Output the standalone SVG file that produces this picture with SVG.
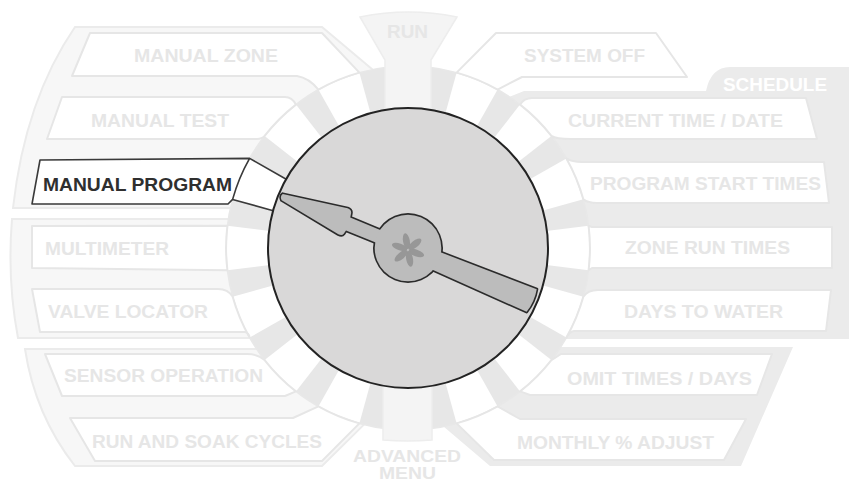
<svg xmlns="http://www.w3.org/2000/svg" xmlns:xlink="http://www.w3.org/1999/xlink" width="849" height="484" viewBox="0 0 849 484">
<defs>
<style>
.bandL{fill:#f7f7f7;stroke:#ebebeb;stroke-width:2}
.bandR{fill:#ebebeb;stroke:none}
.spoke{fill:#e7e7e7}
.box{fill:#ffffff;stroke:#e6e6e6;stroke-width:2;stroke-linejoin:round}
.stem{fill:#f4f4f4;stroke:#ededed;stroke-width:1.5}
.active{fill:#ffffff;stroke:#3a3a3a;stroke-width:1.6;stroke-linejoin:round}
.neck{fill:none;stroke:#3a3a3a;stroke-width:1.6}
.t{font-family:"Liberation Sans",Arial,sans-serif;font-weight:700;font-size:18.5px;text-anchor:middle;fill:#e6e6e6}
.ts{font-size:16.5px}
.ta{fill:#2f2f2f}
.tw{fill:#ffffff}
.ink{fill:none;stroke:#2b2b2b;stroke-width:3.2;stroke-linejoin:round}
.needle{fill:#bcbcbc;stroke:none}
.petal{fill:#979797}
</style>
<path id="spoke" class="spoke" d="M397.77,111 L394.51,66.5 A182,182 0 0 1 421.49,66.5 L418.23,111 Z"/>
</defs>
<rect width="849" height="484" fill="#ffffff"/>

<g id="bands">
<path class="bandL" d="M372.5,69.5 L322,27 L75,27 Q25,100 13,208 L232,208 L408,248 Z"/>
<path class="bandL" d="M228,219 L12,219 Q7,280 18,338 L250,338 L408,248 Z"/>
<path class="bandL" d="M257,349 L25,349 Q35,415 75,466 L322,466 L364,424.6 L408,248 Z"/>
<path class="bandR" d="M509,97 L524,91 L706,91 Q711,67 730,67 L849,67 L849,339 L566,339 L408,248 Z"/>
<path class="bandR" d="M557,347 L793,347 L741,466 L490,466 L443.5,426.5 L408,248 Z"/>
</g>

<g id="ring">
<circle cx="408" cy="248" r="182" fill="#ffffff"/>
<use xlink:href="#spoke" transform="rotate(11.25 408 248)"/>
<use xlink:href="#spoke" transform="rotate(33.75 408 248)"/>
<use xlink:href="#spoke" transform="rotate(56.25 408 248)"/>
<use xlink:href="#spoke" transform="rotate(78.75 408 248)"/>
<use xlink:href="#spoke" transform="rotate(101.25 408 248)"/>
<use xlink:href="#spoke" transform="rotate(123.75 408 248)"/>
<use xlink:href="#spoke" transform="rotate(146.25 408 248)"/>
<use xlink:href="#spoke" transform="rotate(168.75 408 248)"/>
<use xlink:href="#spoke" transform="rotate(191.25 408 248)"/>
<use xlink:href="#spoke" transform="rotate(213.75 408 248)"/>
<use xlink:href="#spoke" transform="rotate(236.25 408 248)"/>
<use xlink:href="#spoke" transform="rotate(258.75 408 248)"/>
<use xlink:href="#spoke" transform="rotate(281.25 408 248)"/>
<use xlink:href="#spoke" transform="rotate(303.75 408 248)"/>
<use xlink:href="#spoke" transform="rotate(326.25 408 248)"/>
<use xlink:href="#spoke" transform="rotate(348.75 408 248)"/>
<circle cx="408" cy="248" r="182" fill="none" stroke="#e8e8e8" stroke-width="1.5"/>
</g>

<g id="run">
<path class="stem" d="M360,17 A237,237 0 0 1 457,17 L431,60 L431,125 L385,125 L385,60 Z"/>
<text class="t" x="407.5" y="37.5" textLength="41" lengthAdjust="spacingAndGlyphs">RUN</text>
</g>
<g id="advanced-menu">
<path class="stem" d="M383,370 L383,440 Q407.5,442 432,440 L432,370 Z"/>
<text class="t ts" x="407" y="461.5" textLength="108" lengthAdjust="spacingAndGlyphs">ADVANCED</text>
<text class="t ts" x="407.5" y="479" textLength="57" lengthAdjust="spacingAndGlyphs">MENU</text>
</g>

<g id="manual-zone">
<path class="box" d="M359.4,72.6 L322,33 L90,33 L72,76 L297,76 Q309,78 318.4,89.6 A182,182 0 0 1 359.4,72.6 Z"/>
<text class="t" x="206" y="61.5" textLength="144" lengthAdjust="spacingAndGlyphs">MANUAL ZONE</text>
</g>
<g id="manual-test">
<path class="box" d="M295.9,104.6 Q292,97 285,97 L62,97 L47,139 L257,139 Q262,139 264.6,135.9 A182,182 0 0 1 295.9,104.6 Z"/>
<text class="t" x="160" y="126.5" textLength="138" lengthAdjust="spacingAndGlyphs">MANUAL TEST</text>
</g>
<g id="multimeter">
<path class="box" d="M227.4,225.8 L32,226 L32,268 L227.4,270.2 A182,182 0 0 1 227.4,225.8 Z"/>
<text class="t" x="107" y="254.5" textLength="124" lengthAdjust="spacingAndGlyphs">MULTIMETER</text>
</g>
<g id="valve-locator">
<path class="box" d="M232.6,296.6 Q228,289 218,289 L32,289 L40,332 L245,332 Q249,333 249.6,337.6 A182,182 0 0 1 232.6,296.6 Z"/>
<text class="t" x="128" y="318.3" textLength="160" lengthAdjust="spacingAndGlyphs">VALVE LOCATOR</text>
</g>
<g id="sensor-operation">
<path class="box" d="M264.6,360.1 Q258,354 247,354 L45,354 L62,396 L285,396 L295.9,391.4 A182,182 0 0 1 264.6,360.1 Z"/>
<text class="t" x="163.5" y="382" textLength="199" lengthAdjust="spacingAndGlyphs">SENSOR OPERATION</text>
</g>
<g id="run-and-soak-cycles">
<path class="box" d="M318.4,406.4 L293,418 L70,418 L95,461 L322,461 L359.4,423.4 A182,182 0 0 1 318.4,406.4 Z"/>
<text class="t" x="207" y="448" textLength="230" lengthAdjust="spacingAndGlyphs">RUN AND SOAK CYCLES</text>
</g>

<g id="system-off">
<path class="box" d="M456.6,72.6 L496,33 L656,33 L687,77 L522,77 L497.6,89.6 A182,182 0 0 0 456.6,72.6 Z"/>
<text class="t" x="584.5" y="61.5" textLength="121" lengthAdjust="spacingAndGlyphs">SYSTEM OFF</text>
</g>
<g id="schedule">
<text class="t tw" x="775" y="90.5" textLength="104" lengthAdjust="spacingAndGlyphs">SCHEDULE</text>
</g>
<g id="current-time-date">
<path class="box" d="M520.1,104.6 Q524,98 532,98 L806,98 L817,139 L571,139 Q556,139 551.4,135.9 A182,182 0 0 0 520.1,104.6 Z"/>
<text class="t" x="675.5" y="126.5" textLength="215" lengthAdjust="spacingAndGlyphs">CURRENT TIME / DATE</text>
</g>
<g id="program-start-times">
<path class="box" d="M566.4,158.4 Q572,162 582,162 L824,162 L829,203 L597,203 Q588,203 583.4,199.4 A182,182 0 0 0 566.4,158.4 Z"/>
<text class="t" x="705.5" y="190.3" textLength="231" lengthAdjust="spacingAndGlyphs">PROGRAM START TIMES</text>
</g>
<g id="zone-run-times">
<path class="box" d="M588.6,225.8 L592,227 L832,227 L832,268 L592,268 L588.6,270.2 A182,182 0 0 0 588.6,225.8 Z"/>
<text class="t" x="707.5" y="254" textLength="165" lengthAdjust="spacingAndGlyphs">ZONE RUN TIMES</text>
</g>
<g id="days-to-water">
<path class="box" d="M583.4,296.6 Q588,290 598,290 L831,290 L826,331 L574,331 Q569,332 566.4,337.6 A182,182 0 0 0 583.4,296.6 Z"/>
<text class="t" x="703.5" y="318" textLength="159" lengthAdjust="spacingAndGlyphs">DAYS TO WATER</text>
</g>
<g id="omit-times-days">
<path class="box" d="M551.4,360.1 L561,354 L772,354 L757,395 L530,395 L520.1,391.4 A182,182 0 0 0 551.4,360.1 Z"/>
<text class="t" x="659.5" y="384.5" textLength="185" lengthAdjust="spacingAndGlyphs">OMIT TIMES / DAYS</text>
</g>
<g id="monthly-adjust">
<path class="box" d="M497.6,406.4 L520,419 L746,419 L724,460 L494,460 L456.6,423.4 A182,182 0 0 0 497.6,406.4 Z"/>
<text class="t" x="615.5" y="448.5" textLength="197" lengthAdjust="spacingAndGlyphs">MONTHLY % ADJUST</text>
</g>

<g id="manual-program">
<path class="active" d="M249.6,158.4 L40,160 L32,204 L228,204 L232.6,199.4 A182,182 0 0 1 249.6,158.4 Z"/>
<text class="t ta" x="137.5" y="190.5" textLength="189" lengthAdjust="spacingAndGlyphs">MANUAL PROGRAM</text>
</g>
<g id="connectors">
<path class="neck" d="M249.6,158.4 L288,180.2 M232.6,199.4 L275,211.2"/>
</g>

<g id="dial">
<circle cx="408" cy="248" r="140" fill="#d9d8d8" stroke="#232323" stroke-width="2"/>
<g transform="translate(408,248) rotate(22.5)">
<path class="ink" d="M-136.4,-2 L-71,-13.6 Q-66.5,-13.8 -65.8,-10 L-65,-6 L0,-6 L31,-8.5 L134.7,-11.2 Q137.5,1 134,13.6 L31,10.8 L0,7 L-64,7.5 L-64.8,11.5 Q-65.5,14.2 -69.6,14 L-135,4.2 Q-138.5,1 -136.4,-2 Z"/>
<circle class="ink" cx="0" cy="0" r="33.3"/>
<path class="needle" d="M-136.4,-2 L-71,-13.6 Q-66.5,-13.8 -65.8,-10 L-65,-6 L0,-6 L31,-8.5 L134.7,-11.2 Q137.5,1 134,13.6 L31,10.8 L0,7 L-64,7.5 L-64.8,11.5 Q-65.5,14.2 -69.6,14 L-135,4.2 Q-138.5,1 -136.4,-2 Z"/>
<circle class="needle" cx="0" cy="0" r="33.3"/>
</g>
<g transform="translate(408,250)">
<ellipse class="petal" cx="9" cy="0" rx="8" ry="3.4" transform="rotate(20)"/>
<ellipse class="petal" cx="9" cy="0" rx="8" ry="3.4" transform="rotate(80)"/>
<ellipse class="petal" cx="9" cy="0" rx="8" ry="3.4" transform="rotate(140)"/>
<ellipse class="petal" cx="9" cy="0" rx="8" ry="3.4" transform="rotate(200)"/>
<ellipse class="petal" cx="9" cy="0" rx="8" ry="3.4" transform="rotate(260)"/>
<ellipse class="petal" cx="9" cy="0" rx="8" ry="3.4" transform="rotate(320)"/>
</g>
</g>
</svg>
